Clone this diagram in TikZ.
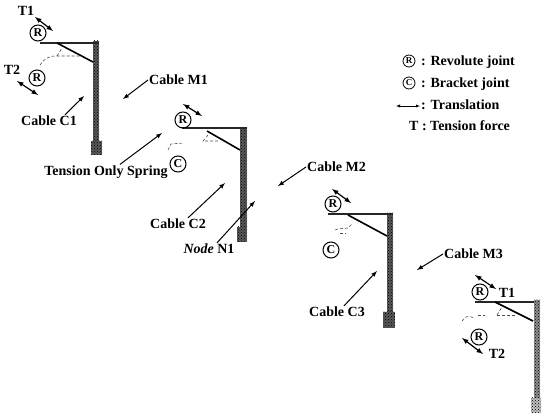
\documentclass[tikz,border=0pt]{standalone}
\usepackage{fontspec}
\setmainfont{Liberation Serif}
\usepackage{tikz}
\usetikzlibrary{arrows}
\usetikzlibrary{patterns}
\tikzset{
 lbl/.style={inner sep=1pt, font=\fontsize{14}{15}\selectfont\bfseries},
 joint/.style={circle, draw=black, line width=1pt, inner sep=0pt, minimum size=16pt, font=\fontsize{12}{13}\selectfont\bfseries},
 legjoint/.style={joint, line width=.8pt, minimum size=12pt, font=\fontsize{9}{10}\selectfont\bfseries},
 leader/.style={-latex, draw=black, line width=1pt},
 trans/.style={latex-latex, draw=black, line width=1.2pt},
 polebar/.style={draw=none, fill=black!65, postaction={pattern=crosshatch dots, pattern color=black}},
 arm/.style={draw=black!85, line width=1.3pt},
 brace/.style={draw=black, line width=1.6pt},
 deflect/.style={draw=black!70, densely dashed, semithick}
}
\begin{document}
\begin{tikzpicture}[x=1pt, y=-1pt]
 \useasboundingbox (0, 0) rectangle (542, 417);

 % poles, arms and braces
 \fill [polebar] (93, 41) rectangle (99, 142);
 \fill [polebar] (91, 141) rectangle (102, 155);
 \draw [arm] (40, 43) -- (99, 43);
 \draw [brace] (57, 43) -- (93, 62);
 \fill [polebar] (240, 128) rectangle (247, 228);
 \fill [polebar] (237, 227) rectangle (247, 242);
 \draw [arm] (182, 128) -- (247, 128);
 \draw [brace] (207, 131) -- (240, 150);
 \fill [polebar] (387, 213) rectangle (393, 313);
 \fill [polebar] (383, 312) rectangle (395, 328);
 \draw [arm] (328, 214) -- (393, 214);
 \draw [brace] (348, 215) -- (387, 236);
 \fill [black!45, postaction={pattern=crosshatch dots, pattern color=black}] (534, 300) rectangle (540, 399);
 \fill [black!25, postaction={pattern=crosshatch dots, pattern color=black}] (531, 398) rectangle (541, 413);
 \draw [arm] (475, 302) -- (534, 302);
 \draw [brace] (495, 302) -- (533, 321);

 % deflected shapes
 \draw [deflect] (40, 65) .. controls (44, 59) and (48, 56) .. (56, 56) -- (80, 56);
 \draw [deflect] (57, 56) -- (62, 48);
 \draw [deflect] (168, 150) -- (171, 144) -- (183, 143);
 \draw [deflect] (208, 135) -- (203, 141) -- (220, 141);
 \draw [deflect] (335, 230) -- (338, 229) -- (348, 228) -- (352, 224);
 \draw [deflect] (340, 233) -- (346, 233);
 \draw [deflect] (462, 321) .. controls (465, 317) and (468, 314) .. (475, 319);
 \draw [deflect] (478, 315) -- (485, 315);
 \draw [deflect] (497, 315) -- (515, 315);
 \draw [deflect] (497, 315) -- (502, 307);

 % joints
 \node [joint] (R1) at (38, 33) {R};
 \node [joint] (R2) at (37, 78) {R};
 \node [joint] (R3) at (183, 120) {R};
 \node [joint] (C1) at (178, 164) {C};
 \node [joint] (R4) at (333, 204) {R};
 \node [joint] (C2) at (331, 250) {C};
 \node [joint] (R5) at (480, 292) {R};
 \node [joint] (R6) at (479, 337) {R};

 % translation arrows
 \coordinate (t1a) at (35, 17);
 \coordinate (t1b) at (53, 31);
 \coordinate (t2a) at (17, 81);
 \coordinate (t2b) at (38, 95);
 \coordinate (t3a) at (183, 104);
 \coordinate (t3b) at (202, 116);
 \coordinate (t4a) at (332, 189);
 \coordinate (t4b) at (351, 203);
 \coordinate (t5a) at (475, 275);
 \coordinate (t5b) at (496, 289);
 \coordinate (t6a) at (462, 338);
 \coordinate (t6b) at (483, 354);
 \draw [trans] (t1a) -- (t1b);
 \draw [trans] (t2a) -- (t2b);
 \draw [trans] (t3a) -- (t3b);
 \draw [trans] (t4a) -- (t4b);
 \draw [trans] (t5a) -- (t5b);
 \draw [trans] (t6a) -- (t6b);

 % force labels
 \node [lbl] (T1a) at (26, 11) {T1};
 \node [lbl] (T2a) at (12, 70) {T2};
 \node [lbl] (T1b) at (507, 293) {T1};
 \node [lbl] (T2b) at (497, 354) {T2};

 % cable labels and their leaders
 \node [lbl] (lblC1) at (49, 121) {Cable C1};
 \node [lbl, anchor=west] (lblM1) at (148, 80) {Cable M1};
 \node [lbl] (lblSpring) at (106, 172) {Tension Only Spring};
 \node [lbl] (lblC2) at (178, 224) {Cable C2};
 \node [lbl] (lblN1) at (209, 249) {\textit{Node} N1};
 \node [lbl, anchor=west] (lblM2) at (306, 167) {Cable M2};
 \node [lbl] (lblC3) at (337, 312) {Cable C3};
 \node [lbl, anchor=west] (lblM3) at (443, 254) {Cable M3};
 \coordinate (endC1) at (84, 96);
 \coordinate (endM1) at (123, 99);
 \coordinate (endSpring) at (162, 133);
 \coordinate (endC2) at (225, 183);
 \coordinate (endN1) at (255, 201);
 \coordinate (endM2) at (278, 186);
 \coordinate (endC3) at (377, 271);
 \coordinate (endM3) at (417, 270);
 \draw [leader] ([xshift=16pt]lblC1.north) -- (endC1);
 \draw [leader] (lblM1.west) -- (endM1);
 \draw [leader] ([xshift=14pt]lblSpring.north) -- (endSpring);
 \draw [leader] ([xshift=10pt]lblC2.north) -- (endC2);
 \draw [leader] ([xshift=8pt]lblN1.north) -- (endN1);
 \draw [leader] (lblM2.west) -- (endM2);
 \draw [leader] ([xshift=7pt]lblC3.north) -- (endC3);
 \draw [leader] (lblM3.west) -- (endM3);

 % legend
 \node [legjoint] (legR) at (409, 61) {R};
 \node [legjoint] (legC) at (409, 83) {C};
 \coordinate (legTa) at (396, 106);
 \coordinate (legTb) at (420, 106);
 \draw [latex-latex, draw=black] (legTa) -- (legTb);
 \node [lbl, anchor=west] (legRt) at (420, 62) {: Revolute joint};
 \node [lbl, anchor=west] (legCt) at (420, 84) {: Bracket joint};
 \node [lbl, anchor=west] (legTt) at (420, 105) {: Translation};
 \node [lbl, anchor=west] (legFt) at (408, 126) {T : Tension force};
\end{tikzpicture}
\end{document}
